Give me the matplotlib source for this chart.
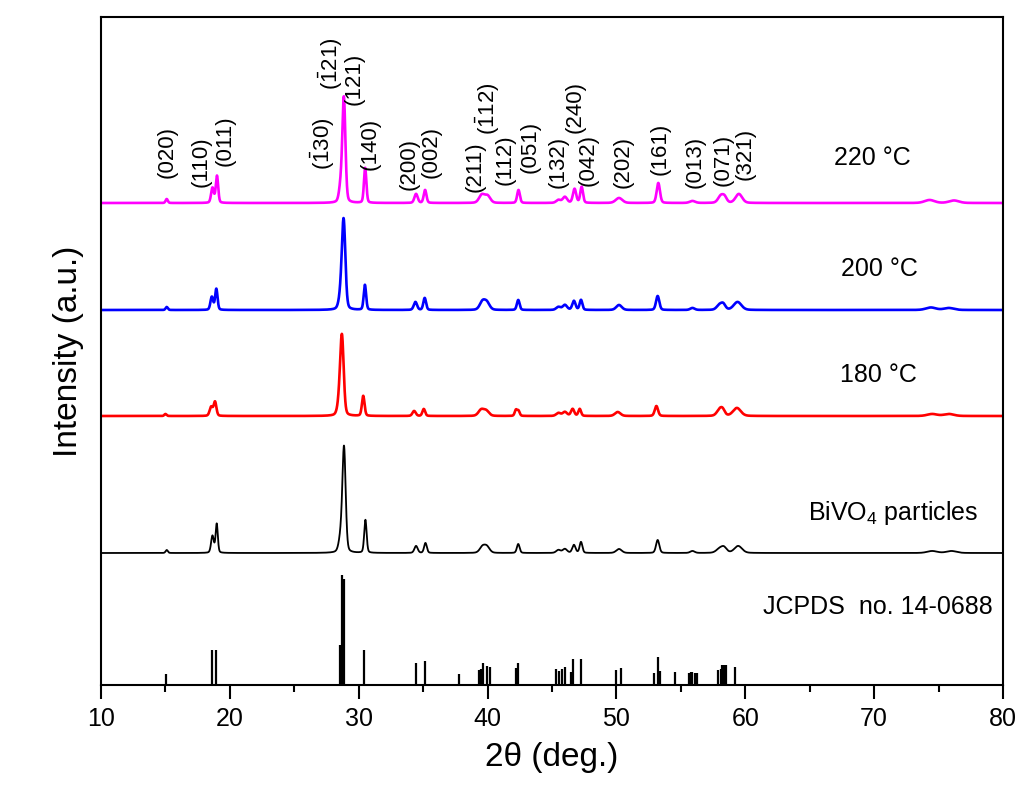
import numpy as np
import matplotlib
matplotlib.use("Agg")
import matplotlib.pyplot as plt

plt.rcParams['font.family'] = ['Liberation Sans', 'DejaVu Sans']
plt.rcParams['mathtext.fontset'] = 'custom'
plt.rcParams['mathtext.rm'] = 'Liberation Sans'
plt.rcParams['mathtext.it'] = 'Liberation Sans:italic'

# JCPDS 14-0688 reference sticks (2theta, relative intensity)
stick_pos = [15.04, 18.59, 18.92, 28.52, 28.70, 28.86, 30.43, 34.42, 35.14, 37.78,
             39.33, 39.46, 39.67, 39.93, 40.19, 42.20, 42.38, 45.31, 45.54, 45.77,
             45.98, 46.44, 46.63, 47.25, 49.94, 50.33, 52.94, 53.20, 53.40, 54.55,
             55.66, 55.77, 55.89, 56.10, 56.28, 57.91, 58.09, 58.22, 58.37, 58.50, 59.20]
stick_h = [11, 35, 35, 40, 110, 106, 35, 22, 24, 11,
           15, 16, 22, 19, 18, 17, 22, 16, 14, 16,
           18, 13, 26, 26, 15, 17, 12, 28, 14, 13,
           12, 13, 13, 12, 12, 15, 16, 20, 20, 20, 18]

# measured patterns described by their peaks: position, height, fwhm
bivo4_pos = [15.1, 18.65, 18.98, 28.6, 28.86, 30.52, 34.45, 35.18, 39.6, 39.95, 42.38,
             45.5, 46.0, 46.7, 47.25, 50.2, 53.2, 55.9, 58.0, 58.35, 59.45, 74.5, 76.0]
bivo4_h = [3, 17, 29, 14, 104, 33, 7, 10, 6, 6, 9,
           3, 4, 8, 11, 4, 13, 2, 4, 5, 7, 2, 2]
bivo4_w = [0.2, 0.25, 0.2, 0.35, 0.3, 0.22, 0.3, 0.25, 0.5, 0.5, 0.25,
           0.4, 0.4, 0.3, 0.25, 0.5, 0.3, 0.4, 0.6, 0.5, 0.7, 0.9, 0.9]

t180_pos = [15.0, 18.55, 18.85, 28.5, 28.7, 30.35, 34.3, 35.05, 39.5, 39.9, 42.2, 42.4,
            45.5, 46.0, 46.6, 47.15, 50.1, 53.1, 58.0, 58.25, 59.35, 74.5, 75.8]
t180_h = [2, 9, 14, 12, 77, 20, 5, 7, 6, 5, 6, 5,
          3, 4, 7, 7, 4, 10, 6, 5, 8, 2, 2]
t180_w = [0.2, 0.28, 0.25, 0.35, 0.32, 0.24, 0.3, 0.25, 0.5, 0.5, 0.22, 0.22,
          0.4, 0.4, 0.3, 0.25, 0.5, 0.3, 0.5, 0.4, 0.7, 0.9, 0.9]

t200_pos = [15.1, 18.6, 18.95, 28.6, 28.83, 30.48, 34.4, 35.12, 39.6, 39.95, 42.38,
            45.5, 46.0, 46.7, 47.25, 50.2, 53.2, 55.9, 58.0, 58.3, 59.4, 74.4, 75.8]
t200_h = [3, 13, 21, 12, 88, 25, 8, 12, 8, 7, 10,
          3, 5, 9, 10, 5, 14, 2, 5, 5, 8, 2.5, 2]
t200_w = [0.2, 0.25, 0.22, 0.35, 0.32, 0.22, 0.3, 0.25, 0.5, 0.5, 0.25,
          0.4, 0.4, 0.3, 0.25, 0.5, 0.3, 0.4, 0.5, 0.4, 0.7, 0.9, 0.9]

t220_pos = [15.1, 18.65, 19.0, 28.6, 28.85, 30.5, 34.45, 35.15, 39.55, 40.0, 42.4,
            45.5, 46.0, 46.75, 47.3, 50.2, 53.25, 55.9, 58.1, 58.4, 59.5, 74.3, 76.2]
t220_h = [4, 15, 27, 15, 104, 35, 9, 13, 8, 7, 13,
          3, 6, 14, 16, 5, 20, 2, 7, 5, 9, 3, 2.5]
t220_w = [0.2, 0.25, 0.22, 0.3, 0.28, 0.22, 0.3, 0.25, 0.5, 0.5, 0.25,
          0.4, 0.4, 0.3, 0.25, 0.6, 0.3, 0.5, 0.5, 0.4, 0.6, 0.9, 0.9]

# Miller indices written above the 220 C pattern
hkl_text = ['(020)', '(110)', '(011)', r'$\mathregular{(\bar{1}30)}$',
            r'$\mathregular{(\bar{1}21)}$', '(121)', '(140)', '(200)', '(002)',
            '(211)', r'$\mathregular{(\bar{1}12)}$', '(112)', '(051)', '(132)',
            '(240)', '(042)', '(202)', '(161)', '(013)', '(071)', '(321)']
hkl_x = [15.1, 17.76, 19.62, 27.2, 27.85, 29.65, 30.9, 33.95, 35.6,
         39.0, 40.0, 41.35, 43.3, 45.5, 46.8, 47.8, 50.5, 53.4, 56.1, 58.3, 59.98]
hkl_y = [507, 498, 519, 515, 595, 580, 515, 495, 507,
         493, 550, 500, 512, 497, 552, 499, 497, 510, 497, 499, 505]


def pattern(x, pos, h, w, eta=0.25):
    y = np.zeros_like(x)
    for p, a, f in zip(pos, h, w):
        s = f / 2.3548
        g = np.exp(-0.5 * ((x - p) / s) ** 2)
        l = 1.0 / (1.0 + ((x - p) / (f / 2)) ** 2)
        y += a * ((1 - eta) * g + eta * l)
    return y


x = np.linspace(10, 80, 7001)

fig = plt.figure(figsize=(10.24, 8.01), dpi=100)
ax = fig.add_axes([101 / 1024, 116 / 801, 902 / 1024, 668 / 801])

ax.vlines(stick_pos, 0, stick_h, color='k', lw=1.6)
ax.plot(x, 132 + pattern(x, bivo4_pos, bivo4_h, bivo4_w), color='k', lw=1.3)
ax.plot(x, 269 + pattern(x, t180_pos, t180_h, t180_w), color='#ff0000', lw=1.9)
ax.plot(x, 375 + pattern(x, t200_pos, t200_h, t200_w), color='#0000ff', lw=1.9)
ax.plot(x, 482 + pattern(x, t220_pos, t220_h, t220_w), color='#ff00ff', lw=1.9)

for s, xx, yy in zip(hkl_text, hkl_x, hkl_y):
    ax.text(xx, yy, s, rotation=90, ha='center', va='bottom', fontsize=16)

ax.text(69.9, 520, '220 \u00b0C', fontsize=18, ha='center', va='baseline')
ax.text(70.4, 409, '200 \u00b0C', fontsize=18, ha='center', va='baseline')
ax.text(70.3, 303, '180 \u00b0C', fontsize=18, ha='center', va='baseline')
ax.text(71.5, 165, 'BiVO$_4$ particles', fontsize=18, ha='center', va='baseline')
ax.text(70.3, 71, 'JCPDS  no. 14-0688', fontsize=18, ha='center', va='baseline')

ax.set_xlim(10, 80)
ax.set_ylim(0, 668)
ax.set_xticks(np.arange(10, 81, 10))
ax.set_xticks(np.arange(15, 80, 10), minor=True)
ax.set_yticks([])
ax.tick_params(axis='x', which='major', direction='out', length=10, width=1.5,
               labelsize=18, pad=6)
ax.tick_params(axis='x', which='minor', direction='out', length=5, width=1.5)
for sp in ax.spines.values():
    sp.set_linewidth(1.5)

ax.set_xlabel('2\u03b8 (deg.)', fontsize=24, labelpad=8)
ax.set_ylabel('Intensity (a.u.)', fontsize=24, labelpad=12)

fig.savefig('out.png', dpi=100)
